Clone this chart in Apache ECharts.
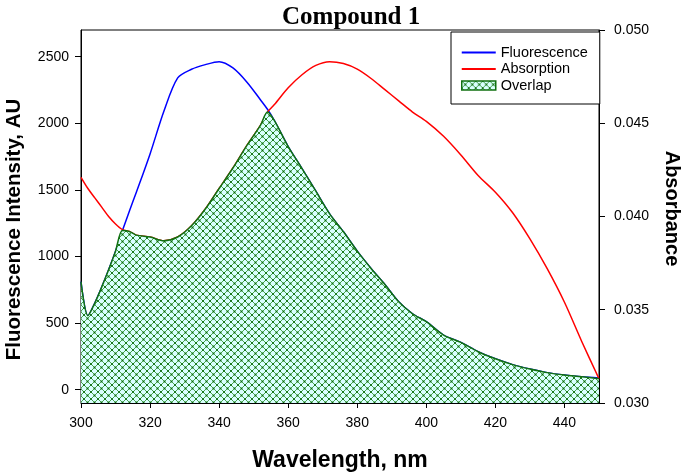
<!DOCTYPE html>
<html><head><meta charset="utf-8">
<script src="https://cdn.jsdelivr.net/npm/echarts@6/dist/echarts.min.js"></script>
<style>html,body{margin:0;padding:0;background:#fff}#c{width:685px;height:475px}</style>
</head><body><div id="c"></div>
<script>
// ---- data ----
const wavelength   = [300,302,304,306,308,310,312,314,316,320,324,328,332,336,340,344,348,352,354,356,360,364,368,372,376,380,384,388,392,396,400,405,410,415,420,425,430,435,440,445,450];
const fluorescence = [810,555,650,770,900,1040,1194,1340,1480,1770,2090,2340,2405,2440,2462,2415,2310,2175,2105,2020,1825,1660,1490,1320,1185,1040,910,790,660,570,510,410,355,285,232,188,155,128,110,97,88];
const absorbance   = [0.0421,0.0415,0.0410,0.0405,0.0400,0.0396,0.0393,0.0392,0.0390,0.0389,0.0387,0.0389,0.0395,0.0404,0.0415,0.0426,0.0438,0.0449,0.0456,0.0460,0.0469,0.0476,0.0481,0.0483,0.0482,0.0479,0.0474,0.0468,0.0462,0.0456,0.0451,0.0443,0.0433,0.0422,0.0413,0.0402,0.0388,0.0372,0.0354,0.0333,0.0313];
const xTicks     = [300,320,340,360,380,400,420,440];
const leftTicks  = [0,500,1000,1500,2000,2500];
const rightTicks = [0.030,0.035,0.040,0.045,0.050];
const leftRange  = [-100,2700];
const rightRange = [0.030,0.050];

// absorbance expressed on the left-axis scale, overlap = lower envelope
function toLeft(a){return leftRange[0]+(a-rightRange[0])/(rightRange[1]-rightRange[0])*(leftRange[1]-leftRange[0]);}
const fluorPairs = wavelength.map((w,i)=>[w,fluorescence[i]]);
const absPairs   = wavelength.map((w,i)=>[w,absorbance[i]]);
const overlapPairs = wavelength.map((w,i)=>[w,Math.min(fluorescence[i],toLeft(absorbance[i]))]);

function makeHatch(){
  const s=7,c=document.createElement('canvas');c.width=s;c.height=s;
  const g=c.getContext('2d');
  g.fillStyle='#d9ffff';g.fillRect(0,0,s,s);
  g.strokeStyle='#3a9a3a';g.lineWidth=0.9;
  g.beginPath();g.moveTo(-1,-1);g.lineTo(s+1,s+1);g.moveTo(s+1,-1);g.lineTo(-1,s+1);g.stroke();
  g.fillStyle='#0c6a0c';
  [[s/2,s/2],[0,0],[s,0],[0,s],[s,s]].forEach(p=>{g.beginPath();g.arc(p[0],p[1],1,0,2*Math.PI);g.fill();});
  return {image:c,repeat:'repeat'};
}
const hatch=makeHatch();
const SANS='Liberation Sans, Arial, sans-serif';
const lbl={fontFamily:SANS,fontSize:14,color:'#000'};
const nameStyle={fontFamily:SANS,fontWeight:'bold',fontSize:20,color:'#000'};
const axLine={show:true,onZero:false,lineStyle:{color:'#000',width:1}};
const lineIcon='path://M0,0 L34,0 L34,2.2 L0,2.2 Z';

const chart=echarts.init(document.getElementById('c'));
chart.setOption({
  animation:false,
  title:{text:'Compound 1',left:282,top:5,padding:0,
    textStyle:{fontFamily:'Liberation Serif, Times New Roman, serif',fontWeight:'bold',fontSize:25,color:'#000'}},
  legend:{orient:'vertical',left:451,top:32,padding:[13,12,11,10],borderColor:'#000',borderWidth:1,
    backgroundColor:'#fff',itemWidth:34,itemHeight:9,itemGap:1.5,symbolKeepAspect:true,
    textStyle:{fontFamily:SANS,fontSize:14.5,color:'#000'},
    data:[{name:'Fluorescence',icon:lineIcon},{name:'Absorption',icon:lineIcon},
      {name:'Overlap',icon:'rect',itemStyle:{color:hatch,borderColor:'#107010',borderWidth:1.5}}]},
  grid:{left:81,right:86,top:30,bottom:72,show:true,borderColor:'#000',borderWidth:1,
    backgroundColor:'transparent',containLabel:false,outerBoundsMode:'none'},
  xAxis:{type:'value',min:300,max:450,name:'Wavelength, nm',nameLocation:'middle',nameGap:46,
    nameTextStyle:Object.assign({},nameStyle,{fontSize:23}),
    axisLine:axLine,
    axisTick:{show:true,length:5,customValues:xTicks,lineStyle:{color:'#000'}},
    axisLabel:Object.assign({customValues:xTicks,margin:13,formatter:v=>String(v)},lbl),
    splitLine:{show:false}},
  yAxis:[
    {type:'value',position:'left',min:leftRange[0],max:leftRange[1],
      name:'Fluorescence Intensity, AU',nameLocation:'middle',nameGap:56,
      nameTextStyle:Object.assign({},nameStyle,{fontSize:20.5,padding:[0,26,0,0]}),
      axisLine:axLine,
      axisTick:{show:true,length:6,customValues:leftTicks,lineStyle:{color:'#000'}},
      axisLabel:Object.assign({customValues:leftTicks,margin:12,formatter:v=>String(v)},lbl),
      splitLine:{show:false}},
    {type:'value',position:'right',min:rightRange[0],max:rightRange[1],
      name:'Absorbance',nameLocation:'middle',nameRotate:-90,nameGap:63,
      nameTextStyle:Object.assign({},nameStyle,{padding:[0,16,0,0]}),
      axisLine:axLine,
      axisTick:{show:true,length:6,customValues:rightTicks,lineStyle:{color:'#000'}},
      axisLabel:Object.assign({customValues:rightTicks,margin:15,formatter:v=>v.toFixed(3)},lbl),
      splitLine:{show:false}}
  ],
  series:[
    {name:'Fluorescence',type:'line',yAxisIndex:0,data:fluorPairs,smooth:0.3,symbol:'none',
      lineStyle:{color:'#0000ff',width:1.5},itemStyle:{color:'#0000ff'},z:2},
    {name:'Absorption',type:'line',yAxisIndex:1,data:absPairs,smooth:0.3,symbol:'none',
      lineStyle:{color:'#ff0000',width:1.5},itemStyle:{color:'#ff0000'},z:2},
    {name:'Overlap',type:'line',yAxisIndex:0,data:overlapPairs,smooth:0.3,symbol:'none',
      lineStyle:{color:'#107010',width:1.5},itemStyle:{color:'#107010'},
      areaStyle:{color:hatch,opacity:1,origin:'start'},z:3}
  ]
});
</script></body></html>
